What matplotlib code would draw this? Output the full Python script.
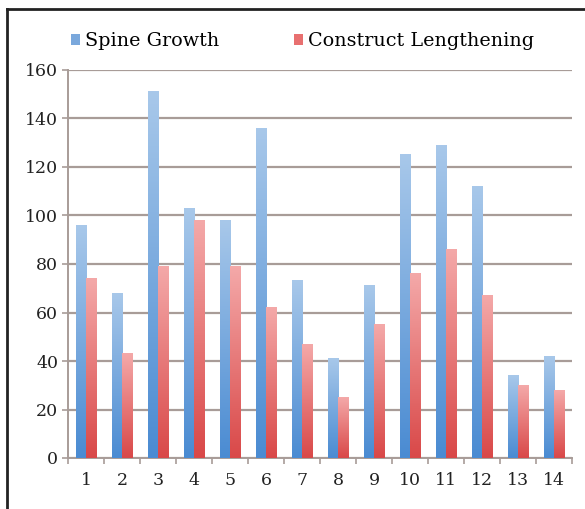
import numpy as np
import matplotlib.pyplot as plt
from matplotlib.colors import LinearSegmentedColormap
from matplotlib.patches import Patch
from matplotlib.lines import Line2D

plt.rcParams['font.family'] = ['DejaVu Serif']

categories = [str(i) for i in range(1, 15)]
spine_growth = [96, 68, 151, 103, 98, 136, 73, 41, 71, 125, 129, 112, 34, 42]
construct_lengthening = [74, 43, 79, 98, 79, 62, 47, 25, 55, 76, 86, 67, 30, 28]
series_names = ["Spine Growth", "Construct Lengthening"]

blue_cmap = LinearSegmentedColormap.from_list("blue", ["#4a8bd2", "#a8c8ea"])
red_cmap = LinearSegmentedColormap.from_list("red", ["#d94848", "#f4a9a9"])

fig = plt.figure(figsize=(5.85, 5.09), dpi=100)
ax = fig.add_axes([68 / 585, 1 - 458 / 509, 504 / 585, 388 / 509])

x = np.arange(len(categories))
width = 0.29
grad = np.linspace(0, 1, 256).reshape(-1, 1)


def gradient_bars(xs, heights, cmap):
    # each bar is an image filled bottom-to-top with the colormap
    for xi, h in zip(xs, heights):
        ax.imshow(grad, cmap=cmap, origin="lower", aspect="auto",
                  extent=(xi - width / 2, xi + width / 2, 0, h), zorder=3)


gradient_bars(x - width / 2, spine_growth, blue_cmap)
gradient_bars(x + width / 2, construct_lengthening, red_cmap)

ax.set_xlim(-0.5, len(categories) - 0.5)
ax.set_ylim(0, 160)
ax.set_yticks(range(0, 161, 20))
ax.yaxis.grid(True, color="#a89c98", linewidth=1.6, zorder=0)
ax.set_axisbelow(True)

ax.set_xticks(x)
ax.set_xticklabels(categories)
ax.set_xticks(np.arange(-0.5, len(categories)), minor=True)
ax.tick_params(axis="x", which="major", length=0, labelsize=12.5, pad=10, colors="#222222")
ax.tick_params(axis="x", which="minor", length=4, color="#a89c98", width=1.2)
ax.tick_params(axis="y", length=4, color="#a89c98", width=1.2, labelsize=12.5,
               pad=3, labelcolor="#222222")

for side in ["top", "right"]:
    ax.spines[side].set_visible(False)
for side in ["left", "bottom"]:
    ax.spines[side].set_color("#a89c98")
    ax.spines[side].set_linewidth(1.4)

handles = [Patch(facecolor="#7aa8dc", edgecolor="none"),
           Patch(facecolor="#e87070", edgecolor="none")]
fig.legend(handles, series_names, loc="center left", bbox_to_anchor=(71 / 585, 1 - 41 / 509),
           ncol=2, frameon=False, fontsize=13.8, handlelength=0.48, handleheight=0.48,
           handletextpad=0.25, columnspacing=3.9, borderpad=0, borderaxespad=0)

# frame lines along the top and left edges of the figure
fig.add_artist(Line2D([6.5 / 585, 6.5 / 585], [0, 1 - 9 / 509], color="#222222", linewidth=2))
fig.add_artist(Line2D([6.5 / 585, 1], [1 - 9 / 509, 1 - 9 / 509], color="#222222", linewidth=2))

fig.savefig("out.png", dpi=100)
